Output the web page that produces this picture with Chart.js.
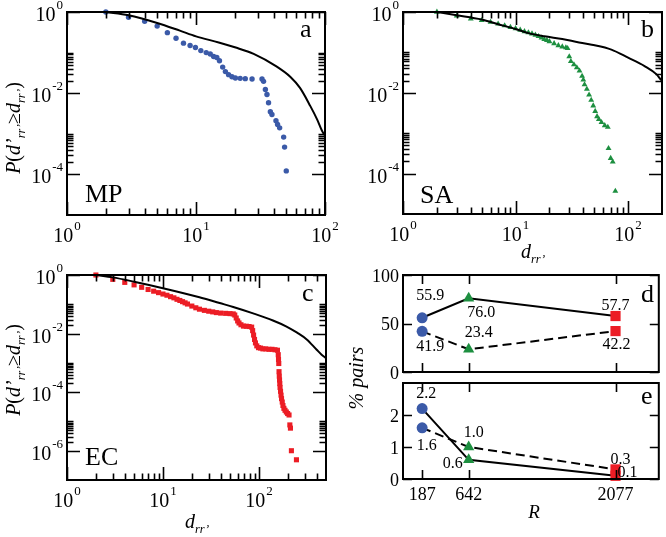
<!DOCTYPE html>
<html>
<head>
<meta charset="utf-8">
<script src="https://cdn.jsdelivr.net/npm/chart.js@4.4.0/dist/chart.umd.min.js"></script>
<style>
body { margin: 0; background: #fff; }
#wrap { position: relative; width: 666px; height: 537px; overflow: hidden; font-family: "Liberation Serif", serif; color: #000; }
canvas { position: absolute; left: 0; top: 0; }
.t { position: absolute; white-space: nowrap; line-height: 1; z-index: 5; }
.rot { transform: translate(-50%, -50%) rotate(-90deg); }
.cx { transform: translateX(-50%); }
sub { font-size: 62%; vertical-align: -0.4em; line-height: 0; }
</style>
</head>
<body>
<div id="wrap">
  <canvas id="pa" width="666" height="537"></canvas>
  <canvas id="pb" width="666" height="537"></canvas>
  <canvas id="pc" width="666" height="537"></canvas>
  <canvas id="pd" width="666" height="537"></canvas>
  <canvas id="pe" width="666" height="537"></canvas>

  <div class="t" style="left:300px;top:16px;font-size:26px">a</div>
  <div class="t" style="left:641px;top:16px;font-size:26px">b</div>
  <div class="t" style="left:302px;top:280px;font-size:26px">c</div>
  <div class="t" style="left:641px;top:281px;font-size:26px">d</div>
  <div class="t" style="left:641px;top:383px;font-size:26px">e</div>
  <div class="t" style="left:85px;top:181px;font-size:26px">MP</div>
  <div class="t" style="left:420px;top:182px;font-size:26px">SA</div>
  <div class="t" style="left:85px;top:444px;font-size:26px">EC</div>

  <div class="t rot" style="left:13px;top:128px;font-size:20px"><i>P</i>(<i>d’</i><sub><i>rr’</i></sub>≥<i>d</i><sub><i>rr’</i></sub>)</div>
  <div class="t rot" style="left:13px;top:370px;font-size:20px"><i>P</i>(<i>d’</i><sub><i>rr’</i></sub>≥<i>d</i><sub><i>rr’</i></sub>)</div>
  <div class="t rot" style="left:356px;top:378px;font-size:20px"><i>% pairs</i></div>
  <div class="t cx" style="left:533px;top:241px;font-size:20px"><i>d</i><sub><i>rr’</i></sub></div>
  <div class="t cx" style="left:197px;top:511px;font-size:20px"><i>d</i><sub><i>rr’</i></sub></div>
  <div class="t cx" style="left:534px;top:502px;font-size:19px"><i>R</i></div>
</div>

<script>
// ---- panel a: MP ----
const mpDist = [2, 3, 4, 5, 6, 7, 8, 9, 9.9, 10.9, 12, 12.9, 13.7, 14.5, 15.2, 16.1, 16.9, 17.9, 19, 20.2, 22, 24.1, 27.2, 32.5, 33.4, 34.5, 35.5, 36.5, 37.7, 38.8, 41.7, 42.9, 44.5, 47.8, 48.6, 50.1];
const mpProb = [1.0, 0.74, 0.59, 0.45, 0.31, 0.226, 0.171, 0.149, 0.133, 0.112, 0.100, 0.092, 0.080, 0.076, 0.063, 0.044, 0.034, 0.0286, 0.0255, 0.0237, 0.0232, 0.0228, 0.0224, 0.0224, 0.0196, 0.0123, 0.0093, 0.0058, 0.0035, 0.0030, 0.0021, 0.0017, 0.0014, 0.00083, 0.00047, 0.000122];
const mpRandDist = [2, 3, 5, 7.5, 10, 15, 20, 28, 42, 54, 64, 77, 87, 95, 100];
const mpRandProb = [1.0, 0.83, 0.537, 0.347, 0.251, 0.178, 0.135, 0.093, 0.0457, 0.0251, 0.0135, 0.0048, 0.00224, 0.00117, 0.00089];

// ---- panel b: SA ----
const saDist = [2, 3, 4, 5, 6, 7, 8, 9, 10, 11, 12, 13, 14, 15, 16, 17, 18, 19, 20, 22, 24, 26, 28, 29, 30, 31, 33, 35, 37, 39, 40, 41, 43, 45, 47, 49, 51, 53, 55, 58, 62, 66, 67, 70, 73, 77];
const saProb = [1.0, 0.80, 0.68, 0.62, 0.56, 0.51, 0.46, 0.42, 0.39, 0.36, 0.33, 0.31, 0.29, 0.27, 0.25, 0.23, 0.21, 0.20, 0.186, 0.166, 0.148, 0.138, 0.132, 0.126, 0.079, 0.060, 0.050, 0.042, 0.035, 0.026, 0.021, 0.016, 0.0123, 0.0089, 0.0066, 0.0048, 0.0035, 0.0026, 0.0022, 0.00186, 0.00155, 0.00141, 0.00042, 0.00024, 0.000195, 0.000037];
const saRandDist = [2, 3, 5, 7, 10, 13, 18, 26, 35, 47.5, 71, 100, 140, 178, 196, 200];
const saRandProb = [1.0, 0.83, 0.65, 0.50, 0.38, 0.30, 0.25, 0.214, 0.182, 0.155, 0.117, 0.074, 0.046, 0.029, 0.021, 0.020];

// ---- panel c: EC ----
const ecDist = [2, 3, 4, 5, 6, 7, 8, 9, 10, 11, 12, 13, 14, 15, 16, 17, 18, 20, 22, 24, 27, 30, 33, 36, 40, 45, 50, 54, 56, 58, 60, 62, 65, 69, 74, 79, 84, 86, 88, 90, 92, 95, 99, 104, 110, 118, 127, 137, 147, 156, 159, 160, 161, 162, 163, 164, 165, 166, 168, 170, 172, 175, 178, 182, 187, 193, 199, 206, 210, 213, 218, 246];
const ecProb = [1.0, 0.71, 0.56, 0.46, 0.38, 0.32, 0.28, 0.25, 0.224, 0.204, 0.182, 0.166, 0.148, 0.135, 0.123, 0.112, 0.102, 0.087, 0.076, 0.068, 0.062, 0.058, 0.055, 0.052, 0.050, 0.049, 0.048, 0.047, 0.043, 0.034, 0.027, 0.023, 0.020, 0.018, 0.0178, 0.0174, 0.0166, 0.0126, 0.0089, 0.0063, 0.0048, 0.0038, 0.0033, 0.0032, 0.0030, 0.0030, 0.0029, 0.0029, 0.0028, 0.0027, 0.0019, 0.0013, 0.00095, 0.0005, 0.00035, 0.00026, 0.000195, 0.000145, 0.000107, 0.000079, 0.00006, 0.000046, 0.000035, 0.000028, 0.000024, 0.000021, 0.0000186, 0.0000166, 0.0000076, 0.0000059, 0.000001, 0.00000049];
const ecRandDist = [2, 3, 5, 10, 24, 39, 54, 87, 140, 194, 250, 315, 400, 450, 500];
const ecRandProb = [1.0, 0.83, 0.59, 0.355, 0.174, 0.110, 0.081, 0.049, 0.028, 0.0174, 0.0107, 0.0063, 0.0028, 0.0019, 0.00145];

// ---- panels d, e ----
const sizesR = [187, 642, 2077];
const dSolid = [55.9, 76.0, 57.7];
const dDashed = [41.9, 23.4, 42.2];
const eSolid = [2.2, 0.6, 0.1];
const eDashed = [1.6, 1.0, 0.3];

const blue = '#3b5aa8', green = '#1d8f40', red = '#ec1d25';
const W = 666, H = 537;

Chart.defaults.font.family = '"Liberation Serif", serif';
Chart.defaults.color = '#000';

function logMinor(min, max, step) {
    const out = [];
    const kMax = step === 2 ? 10 : 9;
    const lo = Math.floor(Math.log10(min)) - step, hi = Math.ceil(Math.log10(max));
    for (let e = lo; e <= hi; e++) {
        if (((e % step) + step) % step !== 0) continue;
        for (let k = 2; k <= kMax; k++) {
            const v = k * Math.pow(10, e);
            if (v > min * 1.001 && v < max * 0.999) out.push(v);
        }
    }
    return out;
}

// ticks, frame and "10^n" labels per panel
const frames = {};

function drawPow(ctx, v, x, y, align) {
    const exp = String(Math.round(Math.log10(v)));
    ctx.font = '20px "Liberation Serif"';
    const wb = ctx.measureText('10').width;
    ctx.font = '13px "Liberation Serif"';
    const we = ctx.measureText(exp).width;
    const w = wb + we + 1;
    const x0 = align === 'right' ? x - w : x - w / 2;
    ctx.textAlign = 'left';
    ctx.textBaseline = 'alphabetic';
    ctx.font = '20px "Liberation Serif"';
    ctx.fillText('10', x0, y);
    ctx.font = '13px "Liberation Serif"';
    ctx.fillText(exp, x0 + wb + 1, y - 12);
}

const frameTicks = {
    id: 'frameTicks',
    afterDraw(chart) {
        const f = frames[chart.canvas.id];
        if (!f) return;
        const ctx = chart.ctx, a = chart.chartArea, xs = chart.scales.x, ys = chart.scales.y;
        ctx.save();
        ctx.strokeStyle = '#000';
        ctx.fillStyle = '#000';
        ctx.lineWidth = 1.6;
        ctx.beginPath();
        const xt = (vals, len) => vals.forEach(v => {
            const p = Math.round(xs.getPixelForValue(v)) + 0.5;
            ctx.moveTo(p, a.bottom); ctx.lineTo(p, a.bottom - len);
            ctx.moveTo(p, a.top); ctx.lineTo(p, a.top + len);
        });
        const yt = (vals, len) => vals.forEach(v => {
            const p = Math.round(ys.getPixelForValue(v)) + 0.5;
            ctx.moveTo(a.left, p); ctx.lineTo(a.left + len, p);
            ctx.moveTo(a.right, p); ctx.lineTo(a.right - len, p);
        });
        xt(f.xMajor, f.majorLen); xt(f.xMinor, f.minorLen);
        yt(f.yMajor, f.majorLen); yt(f.yMinor, f.minorLen);
        ctx.stroke();
        ctx.lineWidth = 2;
        ctx.strokeRect(a.left, a.top, a.right - a.left, a.bottom - a.top);
        if (f.powLabels) {
            f.xMajor.forEach(v => drawPow(ctx, v, xs.getPixelForValue(v), a.bottom + 27, 'center'));
            f.yMajor.forEach(v => drawPow(ctx, v, a.left - 4, ys.getPixelForValue(v) + 9, 'right'));
        }
        ctx.restore();
    }
};

// value labels next to the markers of panels d and e
const labelOffsets = {};
const valueLabels = {
    id: 'valueLabels',
    afterDatasetsDraw(chart) {
        const offs = labelOffsets[chart.canvas.id];
        if (!offs) return;
        const ctx = chart.ctx;
        ctx.save();
        ctx.font = '16px "Liberation Serif"';
        ctx.fillStyle = '#000';
        ctx.textAlign = 'center';
        ctx.textBaseline = 'middle';
        chart.data.datasets.forEach((ds, di) => {
            ds.data.forEach((pt, i) => {
                const x = chart.scales.x.getPixelForValue(pt.x) + offs[di][i][0];
                const y = chart.scales.y.getPixelForValue(pt.y) + offs[di][i][1];
                ctx.fillText(pt.y.toFixed(1), x, y);
            });
        });
        ctx.restore();
    }
};

// axis box of fixed size (0 when the labels are drawn by frameTicks)
function axis(size, extra) {
    return Object.assign({
        grid: { display: false, drawTicks: false },
        border: { display: false },
        ticks: { display: false },
        afterFit: s => { if (s.isHorizontal()) s.height = size; else s.width = size; }
    }, extra);
}

function pairs(xs, ys) {
    return xs.map((x, i) => ({ x: x, y: ys[i] }));
}

function makePanel(id, box, yAxisW, xAxisH, scales, datasets) {
    return new Chart(document.getElementById(id), {
        type: 'scatter',
        data: { datasets: datasets },
        options: {
            responsive: false,
            animation: false,
            events: [],
            layout: { padding: { left: box[0] - yAxisW, top: box[1], right: W - box[2], bottom: H - box[3] - xAxisH } },
            scales: scales,
            plugins: { legend: { display: false }, tooltip: { enabled: false } }
        },
        plugins: [frameTicks, valueLabels]
    });
}

function cdfPanel(id, box, xMax, yMin, dist, prob, randDist, randProb, color, style, radius) {
    frames[id] = {
        xMajor: [1, 10, 100].filter(v => v <= xMax),
        xMinor: logMinor(1, xMax, 1),
        yMajor: [1, 1e-2, 1e-4, 1e-6].filter(v => v >= yMin),
        yMinor: logMinor(yMin, 1, 2),
        majorLen: 13, minorLen: 6.5, powLabels: true
    };
    makePanel(id, box, 0, 0, {
        x: axis(0, { type: 'logarithmic', min: 1, max: xMax }),
        y: axis(0, { type: 'logarithmic', min: yMin, max: 1 })
    }, [
        {
            data: pairs(randDist, randProb), showLine: true, borderColor: '#000', borderWidth: 2,
            pointRadius: 0, cubicInterpolationMode: 'monotone', clip: false
        },
        {
            data: pairs(dist, prob), pointStyle: style, pointRadius: radius,
            backgroundColor: color, pointBackgroundColor: color, pointBorderWidth: 0, clip: false
        }
    ]);
}

cdfPanel('pa', [67, 12, 325, 215], 100, 1e-5, mpDist, mpProb, mpRandDist, mpRandProb, blue, 'circle', 2.7);
cdfPanel('pb', [403, 12, 664, 214], 200, 1e-5, saDist, saProb, saRandDist, saRandProb, green, 'triangle', 3.4);
cdfPanel('pc', [67, 275, 326, 480], 500, 1e-7, ecDist, ecProb, ecRandDist, ecRandProb, red, 'rect', 3.6);

// ---- panels d and e ----
const markerStyle = ['circle', 'triangle', 'rect'];
const markerSize = [5.5, 6.5, 7.2];
const markerColor = [blue, green, red];

function pairsPanel(id, box, yMax, yTicks, solid, dashed, offs, showX) {
    frames[id] = { xMajor: sizesR, xMinor: [], yMajor: yTicks, yMinor: [], majorLen: 9, minorLen: 0, powLabels: false };
    labelOffsets[id] = offs;
    const tickFont = { size: 18 };
    const line = (vals, dash) => ({
        data: pairs(sizesR, vals), showLine: true, borderColor: '#000', borderWidth: 2, borderDash: dash,
        pointStyle: markerStyle, pointRadius: markerSize, pointBackgroundColor: markerColor,
        pointBorderWidth: 0, clip: false
    });
    makePanel(id, box, 45, showX ? 30 : 0, {
        x: axis(showX ? 30 : 0, {
            type: 'linear', min: 0, max: 2500,
            afterBuildTicks: s => { s.ticks = sizesR.map(v => ({ value: v })); },
            ticks: { display: showX, font: tickFont, padding: 5, autoSkip: false, maxRotation: 0, callback: v => String(v) }
        }),
        y: axis(45, {
            type: 'linear', min: 0, max: yMax,
            afterBuildTicks: s => { s.ticks = yTicks.map(v => ({ value: v })); },
            ticks: { display: true, font: tickFont, padding: 4, labelOffset: 2, callback: v => String(v) }
        })
    }, [line(solid, []), line(dashed, [9, 5])]);
}

pairsPanel('pd', [403, 275, 664, 372], 100, [0, 50, 100], dSolid, dDashed,
    [[[8, -22], [12.5, 14.5], [0, -10]], [[8, 15], [10, -16.5], [1, 14]]], false);
pairsPanel('pe', [403, 383, 664, 479], 3, [0, 1, 2], eSolid, eDashed,
    [[[4, -14.6], [-16, 4], [12, -3.3]], [[4.5, 18], [5, -14.5], [5, -9.4]]], true);
</script>
</body>
</html>
